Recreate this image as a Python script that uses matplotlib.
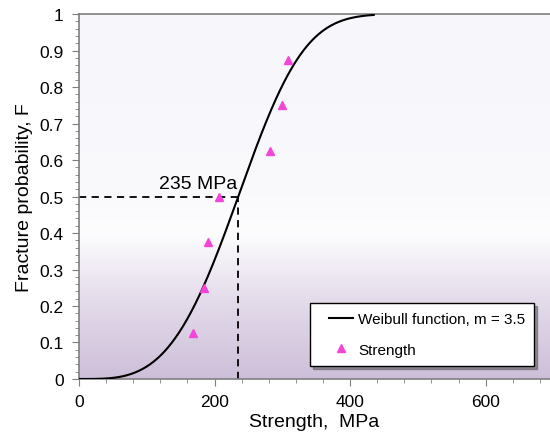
import numpy as np
import matplotlib
matplotlib.use("Agg")
import matplotlib.pyplot as plt
from matplotlib.colors import LinearSegmentedColormap
from matplotlib.ticker import MultipleLocator
from matplotlib.lines import Line2D
from matplotlib.legend_handler import HandlerLine2D

# measured strengths and their rank probabilities
strength = [168, 185, 191, 206, 282, 299, 308]
prob = [0.125, 0.25, 0.375, 0.5, 0.625, 0.75, 0.875]

# Weibull fit
m = 3.5
median_strength = 235
x_max_curve = 435

plt.rcParams['font.family'] = ['Liberation Sans', 'DejaVu Sans']

fig = plt.figure(figsize=(5.5, 4.39), dpi=100)
ax = fig.add_axes([0.1436, 0.1344, 0.8564, 0.8314])

# background gradient (bottom purple -> white -> pale lavender)
grad_cmap = LinearSegmentedColormap.from_list(
    "bg", [(0.0, "#cdbfd9"), (0.2, "#e2d9e9"), (0.4, "#fdfdfe"),
           (0.5, "#fafafd"), (1.0, "#f6f6fb")])
grad = np.linspace(0, 1, 256).reshape(-1, 1)
ax.imshow(grad, aspect="auto", cmap=grad_cmap, origin="lower",
          extent=[0, 700, 0, 1], zorder=0)

sigma0 = median_strength / np.log(2) ** (1 / m)
xs = np.linspace(0, x_max_curve, 300)
F = 1 - np.exp(-(xs / sigma0) ** m)
ax.plot(xs, F, color="black", lw=1.5, label="Weibull function, m = 3.5", zorder=3)
ax.plot(strength, prob, linestyle="none", marker="^", ms=6, color="#f545d8",
        label="Strength", zorder=4)

ax.plot([0, median_strength], [0.5, 0.5], color="black", ls=(0, (4, 3)), lw=1.3, zorder=2)
ax.plot([median_strength, median_strength], [0, 0.5], color="black", ls=(0, (4, 3)), lw=1.3, zorder=2)
ax.text(233, 0.513, "235 MPa", ha="right", va="bottom", fontsize=14)

ax.set_xlim(0, 695)
ax.set_ylim(0, 1)
ax.xaxis.set_major_locator(MultipleLocator(200))
ax.xaxis.set_minor_locator(MultipleLocator(40))
ax.yaxis.set_major_locator(MultipleLocator(0.1))
ax.yaxis.set_minor_locator(MultipleLocator(0.02))
ax.set_yticks(np.arange(0, 1.01, 0.1))
ax.set_yticklabels(["0", "0.1", "0.2", "0.3", "0.4", "0.5", "0.6", "0.7", "0.8", "0.9", "1"])

for s in ["top", "bottom", "left"]:
    ax.spines[s].set_color("#7f7f7f")
    ax.spines[s].set_linewidth(1.2)
ax.spines["right"].set_visible(False)
ax.tick_params(which="major", length=5, color="#7f7f7f", labelsize=12.5, pad=6)
ax.tick_params(which="minor", length=3, color="#7f7f7f")
ax.tick_params(axis="x", which="both", direction="out")

ax.set_xlabel("Strength,  MPa", fontsize=14, labelpad=3)
ax.set_ylabel("Fracture probability, F", fontsize=14, labelpad=5)

# xpad pushes the legend handles right, like the original box
leg = ax.legend(loc="lower right", bbox_to_anchor=(0.983, 0.015), fontsize=11,
                frameon=True, fancybox=False, shadow=True, borderpad=0.6,
                labelspacing=1.1, handlelength=2.25, handletextpad=0.3,
                handler_map={Line2D: HandlerLine2D(xpad=0.65)})
leg.get_frame().set_edgecolor("black")
leg.get_frame().set_linewidth(1.0)

fig.savefig("out.png", dpi=100)
